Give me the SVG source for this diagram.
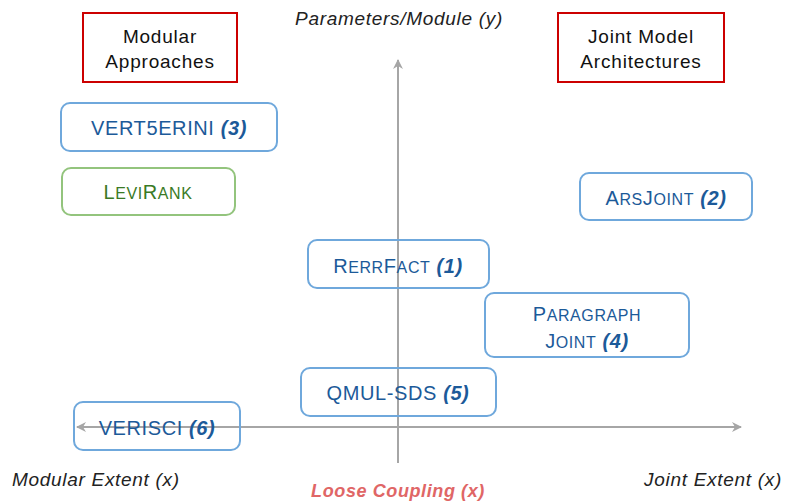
<svg xmlns="http://www.w3.org/2000/svg" width="786" height="501" viewBox="0 0 786 501">
<defs>
<marker id="ah" viewBox="0 0 10 10" refX="9" refY="5" markerWidth="5" markerHeight="5" orient="auto-start-reverse" markerUnits="strokeWidth">
<path d="M0,0 L10,5 L0,10 L3,5 Z" fill="#a6a6a6"/>
</marker>
<style>
.ax{stroke:#a6a6a6;stroke-width:2;fill:none}
.hdr{fill:#fff;stroke:#cc0000;stroke-width:2}
.node{fill:none;stroke:#6fa8dc;stroke-width:2}
.gnode{fill:none;stroke:#93c47d;stroke-width:2}
.t{font-family:"Liberation Sans",Arial,sans-serif;font-size:20px;letter-spacing:0.6px;text-anchor:middle}
.hd{fill:#111;font-size:19px;letter-spacing:0.8px}
.bl{fill:#1c5a99}
.gr{fill:#3a7a25}
.num{font-weight:bold;font-style:italic}
.ax-l{font-family:"Liberation Sans",Arial,sans-serif;font-size:19px;letter-spacing:0.7px;font-style:italic;fill:#222}
.lc{font-family:"Liberation Sans",Arial,sans-serif;font-size:18px;letter-spacing:0.6px;font-style:italic;font-weight:bold;fill:#e06666;text-anchor:middle}
.sc{font-size:16px}
</style>
</defs>
<g id="connectors">
<line class="ax" x1="398" y1="463" x2="398" y2="60" marker-end="url(#ah)"/>
<line class="ax" x1="77" y1="427" x2="741" y2="427" marker-start="url(#ah)" marker-end="url(#ah)"/>
</g>
<g id="hdr-modular">
<rect class="hdr" x="83" y="13" width="154" height="69"/>
<text class="t hd" x="160" y="43">Modular</text>
<text class="t hd" x="160" y="68">Approaches</text>
</g>
<g id="hdr-joint">
<rect class="hdr" x="558" y="13" width="166" height="69"/>
<text class="t hd" x="641" y="43">Joint Model</text>
<text class="t hd" x="641" y="68">Architectures</text>
</g>
<g id="vert5erini">
<rect class="node" x="61" y="103" width="216" height="48" rx="9"/>
<text class="t bl" x="169" y="135">VERT5ERINI <tspan class="num">(3)</tspan></text>
</g>
<g id="levirank">
<rect class="gnode" x="62" y="168" width="173" height="47" rx="9"/>
<text class="t gr" x="148" y="199">L<tspan class="sc">EVI</tspan>R<tspan class="sc">ANK</tspan></text>
</g>
<g id="arsjoint">
<rect class="node" x="580" y="173" width="172" height="47" rx="9"/>
<text class="t bl" x="666" y="205">A<tspan class="sc">RS</tspan>J<tspan class="sc">OINT</tspan> <tspan class="num">(2)</tspan></text>
</g>
<g id="rerrfact">
<rect class="node" x="308" y="240" width="181" height="48" rx="9"/>
<text class="t bl" x="398" y="273">R<tspan class="sc">ERR</tspan>F<tspan class="sc">ACT</tspan> <tspan class="num">(1)</tspan></text>
</g>
<g id="paragraphjoint">
<rect class="node" x="485" y="293" width="204" height="64" rx="9"/>
<text class="t bl" x="587" y="321">P<tspan class="sc">ARAGRAPH</tspan></text>
<text class="t bl" x="587" y="348">J<tspan class="sc">OINT</tspan> <tspan class="num">(4)</tspan></text>
</g>
<g id="qmulsds">
<rect class="node" x="301" y="368" width="195" height="48" rx="9"/>
<text class="t bl" x="398" y="400">QMUL-SDS <tspan class="num">(5)</tspan></text>
</g>
<g id="verisci">
<rect class="node" x="74" y="402" width="166" height="48" rx="9"/>
<text class="t bl" x="157" y="435">VERISCI <tspan class="num">(6)</tspan></text>
</g>
<g id="labels">
<text class="ax-l" x="399" y="25" text-anchor="middle">Parameters/Module (y)</text>
<text class="ax-l" x="12" y="486">Modular Extent (x)</text>
<text class="ax-l" x="782" y="486" text-anchor="end">Joint Extent (x)</text>
<text class="lc" x="398" y="497">Loose Coupling (x)</text>
</g>
</svg>
